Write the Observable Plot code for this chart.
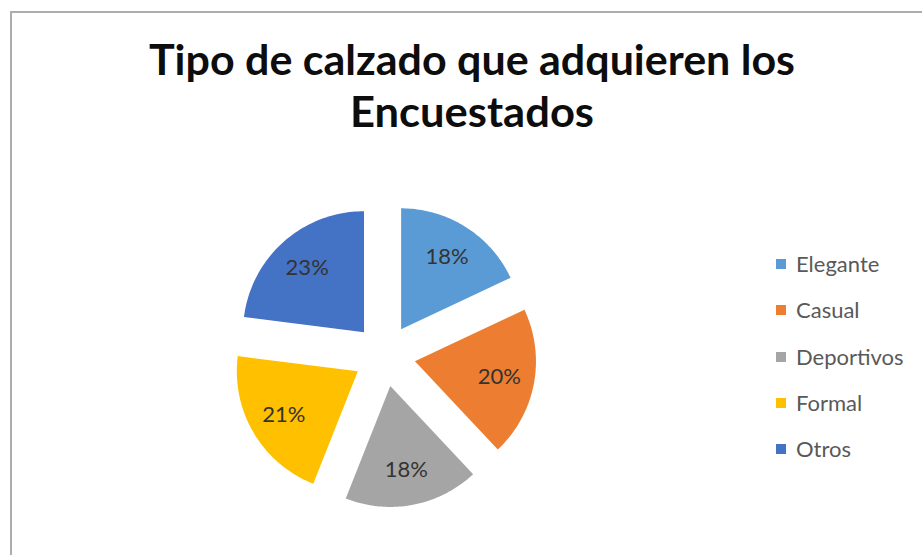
<!DOCTYPE html>
<html>
<head>
<meta charset="utf-8">
<script src="https://cdn.jsdelivr.net/npm/d3@7"></script>
<script src="https://cdn.jsdelivr.net/npm/@observablehq/plot@0.6"></script>
<style>
  html, body { margin: 0; padding: 0; background: #fff; overflow: hidden; width: 922px; height: 555px; }
  #wrap { position: relative; width: 922px; height: 555px; overflow: hidden; }
  #frame { position: absolute; left: 10px; top: 11px; width: 1000px; height: 1000px; border: 2px solid #adadad; box-sizing: border-box; }
  #chart { position: absolute; left: 0; top: 0; }
  #title { position: absolute; left: 0; top: 0; }
  #legend { position: absolute; left: 776px; top: 0; font-family: Lato, "Open Sans", sans-serif; font-size: 22px; color: #595959; }
  .item { position: absolute; left: 0; white-space: nowrap; height: 26px; line-height: 26px; }
  .sw { position: absolute; left: 0; top: 8px; width: 10px; height: 10px; }
  .lab { position: absolute; left: 20px; top: 0; }
</style>
</head>
<body>
<div id="wrap">
  <div id="frame"></div>
  <div id="chart"></div>
  <svg id="title" width="922" height="150"></svg>
  <div id="legend"></div>
</div>
<script>
const titleLines = ["Tipo de calzado que adquieren los", "Encuestados"];
const categories = ["Elegante", "Casual", "Deportivos", "Formal", "Otros"];
const values = [18, 20, 18, 21, 23];
const colors = ["#5B9BD5", "#ED7D31", "#A5A5A5", "#FFC000", "#4472C4"];

// geometry (pixels)
const cx = 384, cy = 355, R = 121, explode = 31;

const pie = d3.pie().sort(null).value(d => d.value).startAngle(0).endAngle(2 * Math.PI);
const arcs = pie(categories.map((c, i) => ({cat: c, value: values[i]})));
const total = d3.sum(values);

// slice outlines in unit coordinates (radius = 1)
const off = explode / R;
const pts = [];
const labels = [];
for (const a of arcs) {
  const mid = (a.startAngle + a.endAngle) / 2;
  const ox = off * Math.sin(mid), oy = off * Math.cos(mid);
  pts.push({cat: a.data.cat, x: ox, y: oy});
  const n = 60;
  for (let k = 0; k <= n; k++) {
    const t = a.startAngle + (a.endAngle - a.startAngle) * k / n;
    pts.push({cat: a.data.cat, x: ox + Math.sin(t), y: oy + Math.cos(t)});
  }
  const lr = off + 0.71;
  labels.push({cat: a.data.cat, x: lr * Math.sin(mid), y: lr * Math.cos(mid),
               text: Math.round(a.data.value / total * 100) + "%"});
}

const plot = Plot.plot({
  width: 922,
  height: 555,
  margin: 0,
  x: {domain: [-1, 1], range: [cx - R, cx + R], axis: null},
  y: {domain: [-1, 1], range: [cy + R, cy - R], axis: null},
  color: {domain: categories, range: colors},
  style: {background: "transparent", overflow: "visible"},
  marks: [
    Plot.line(pts, {x: "x", y: "y", z: "cat", fill: "cat", stroke: "none", curve: "linear-closed"}),
    Plot.text(labels, {x: "x", y: "y", text: "text", fill: "#333333", fontSize: 22,
                       fontFamily: "Lato, 'Open Sans', sans-serif"})
  ]
});
document.getElementById("chart").appendChild(plot);

// title
const tsvg = d3.select("#title");
const baselines = [75, 127];
const widths = [646, 244];
titleLines.forEach((t, i) => {
  tsvg.append("text")
    .attr("x", 472).attr("y", baselines[i])
    .attr("text-anchor", "middle")
    .attr("font-family", "Lato, 'Open Sans', sans-serif")
    .attr("font-weight", "bold")
    .attr("font-size", 42)
    .attr("textLength", widths[i])
    .attr("lengthAdjust", "spacingAndGlyphs")
    .attr("fill", "#0d0d0d")
    .text(t);
});

// legend
const leg = d3.select("#legend");
categories.forEach((c, i) => {
  const it = leg.append("div").attr("class", "item").style("top", (251 + i * 46.3) + "px");
  it.append("div").attr("class", "sw").style("background", colors[i]);
  it.append("div").attr("class", "lab").text(c);
});
</script>
</body>
</html>
